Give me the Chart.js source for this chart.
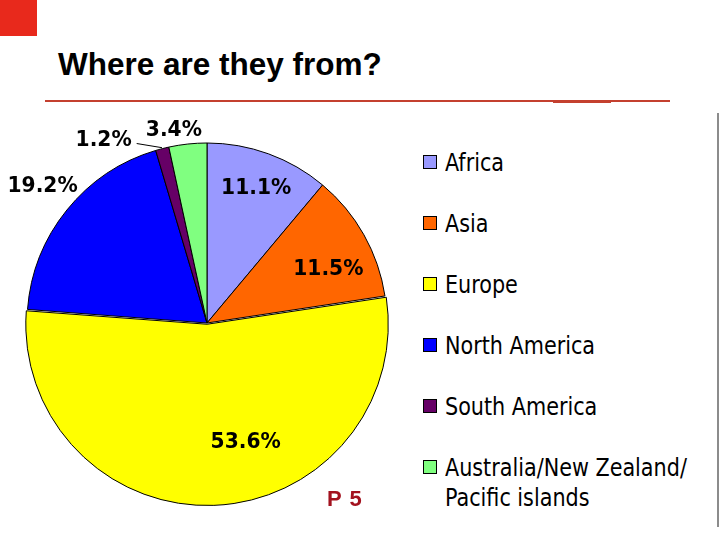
<!DOCTYPE html>
<html lang="en">

<head>
  <meta charset="UTF-8">
  <title>Where are they from?</title>
  <script src="https://cdn.jsdelivr.net/npm/chart.js@4.4.1/dist/chart.umd.min.js"></script>
  <style>
    * {
      box-sizing: border-box;
      margin: 0;
      padding: 0;
    }

    body {
      width: 720px;
      height: 540px;
      overflow: hidden;
      position: relative;
      background: #fff;
    }

    .corner {
      position: absolute;
      left: 0;
      top: 0;
      width: 37px;
      height: 36px;
      background: #e8291c;
    }

    h1 {
      position: absolute;
      left: 58px;
      top: 46px;
      font: bold 31.5px/36px 'Liberation Sans', Arial, sans-serif;
      color: #000;
      white-space: nowrap;
    }

    .rule {
      position: absolute;
      left: 45px;
      top: 100px;
      width: 625px;
      height: 2px;
      background: #c4402f;
    }

    .rule-thick {
      position: absolute;
      left: 553px;
      top: 100px;
      width: 58px;
      height: 3px;
      background: #c4402f;
    }

    .edge {
      position: absolute;
      left: 717px;
      top: 113px;
      width: 2px;
      height: 414px;
      background: #8c8c8c;
    }

    #pie {
      position: absolute;
      left: 0;
      top: 108px;
    }

    .legend-item {
      position: absolute;
      left: 423px;
      font: 24px/30px 'DejaVu Sans Condensed', 'DejaVu Sans', sans-serif;
      color: #000;
      white-space: nowrap;
    }

    .legend-item i {
      position: absolute;
      left: 0;
      top: 7px;
      width: 14px;
      height: 14px;
      border: 1.5px solid #000;
    }

    .legend-item span {
      display: block;
      margin-left: 22px;
      transform: scaleX(0.96);
      transform-origin: left center;
    }

    .page {
      position: absolute;
      left: 327px;
      top: 487px;
      font: bold 22px/24px 'Liberation Sans', Arial, sans-serif;
      color: #a3121f;
      word-spacing: 2px;
    }
  </style>
</head>

<body>
  <div class="corner"></div>
  <h1>Where are they from?</h1>
  <div class="rule"></div>
  <div class="rule-thick"></div>
  <div class="edge"></div>
  <canvas id="pie" width="414" height="430"></canvas>
  <div id="legend"></div>
  <div class="page">P 5</div>

  <script>
    const regions = ['Africa', 'Asia', 'Europe', 'North America', 'South America', ['Australia/New Zealand/', 'Pacific islands']];
    const shares = [11.1, 11.5, 53.6, 19.2, 1.2, 3.4];
    const sliceColors = ['#9999ff', '#ff6600', '#ffff00', '#0000ff', '#660066', '#80ff80'];

    // percentage labels around / inside the slices
    const pieLabels = {
      id: 'pieLabels',
      afterDatasetsDraw(chart, args, opts) {
        const ctx = chart.ctx;
        const meta = chart.getDatasetMeta(0);
        ctx.save();
        ctx.font = opts.font;
        ctx.fillStyle = '#000';
        ctx.strokeStyle = '#000';
        ctx.lineWidth = 1;
        ctx.textAlign = 'center';
        ctx.textBaseline = 'middle';
        meta.data.forEach((arc, i) => {
          const p = opts.place[i];
          const { x, y, startAngle, endAngle, outerRadius } =
            arc.getProps(['x', 'y', 'startAngle', 'endAngle', 'outerRadius'], true);
          const mid = (startAngle + endAngle) / 2;
          const a = mid + p.shift * Math.PI / 180;
          const lx = x + Math.cos(a) * outerRadius * p.r;
          const ly = y + Math.sin(a) * outerRadius * p.r;
          const text = shares[i].toFixed(1) + '%';
          ctx.save();
          ctx.translate(lx, ly + 1);
          ctx.scale(opts.squeeze, 1);
          ctx.fillText(text, 0, 0);
          ctx.restore();
          if (p.leader) {
            const w = ctx.measureText(text).width * opts.squeeze;
            ctx.beginPath();
            ctx.moveTo(lx + w / 2 + 5, ly + 4);
            ctx.lineTo(x + Math.cos(mid) * (outerRadius + 1), y + Math.sin(mid) * (outerRadius + 1));
            ctx.stroke();
          }
        });
        ctx.restore();
      }
    };

    let chart = new Chart(document.getElementById('pie'), {
      type: 'pie',
      data: {
        labels: regions,
        datasets: [{
          data: shares,
          backgroundColor: sliceColors,
          borderColor: '#000',
          borderWidth: 1,
          radius: 180,
          offset: c => c.dataIndex === 2 ? 5 : 0,
        }]
      },
      options: {
        responsive: false,
        animation: false,
        layout: { padding: 0 },
        plugins: {
          legend: { display: false },
          tooltip: { enabled: false },
          pieLabels: {
            font: 'bold 22px "DejaVu Sans", Verdana, sans-serif',
            squeeze: 0.92,
            place: [
              { r: 0.80, shift: 0 },
              { r: 0.74, shift: 5 },
              { r: 0.69, shift: -16 },
              { r: 1.19, shift: 1 },
              { r: 1.17, shift: -15, leader: true },
              { r: 1.09, shift: -3.6 },
            ]
          }
        }
      },
      plugins: [pieLabels]
    });

    // html legend built from the same arrays
    let legend = document.getElementById('legend');
    regions.forEach((name, i) => {
      let item = document.createElement('div');
      item.className = 'legend-item';
      item.style.top = (148 + i * 61) + 'px';
      let box = document.createElement('i');
      box.style.background = sliceColors[i];
      let label = document.createElement('span');
      label.innerHTML = [].concat(name).join('<br>');
      item.appendChild(box);
      item.appendChild(label);
      legend.appendChild(item);
    });
  </script>
</body>

</html>
